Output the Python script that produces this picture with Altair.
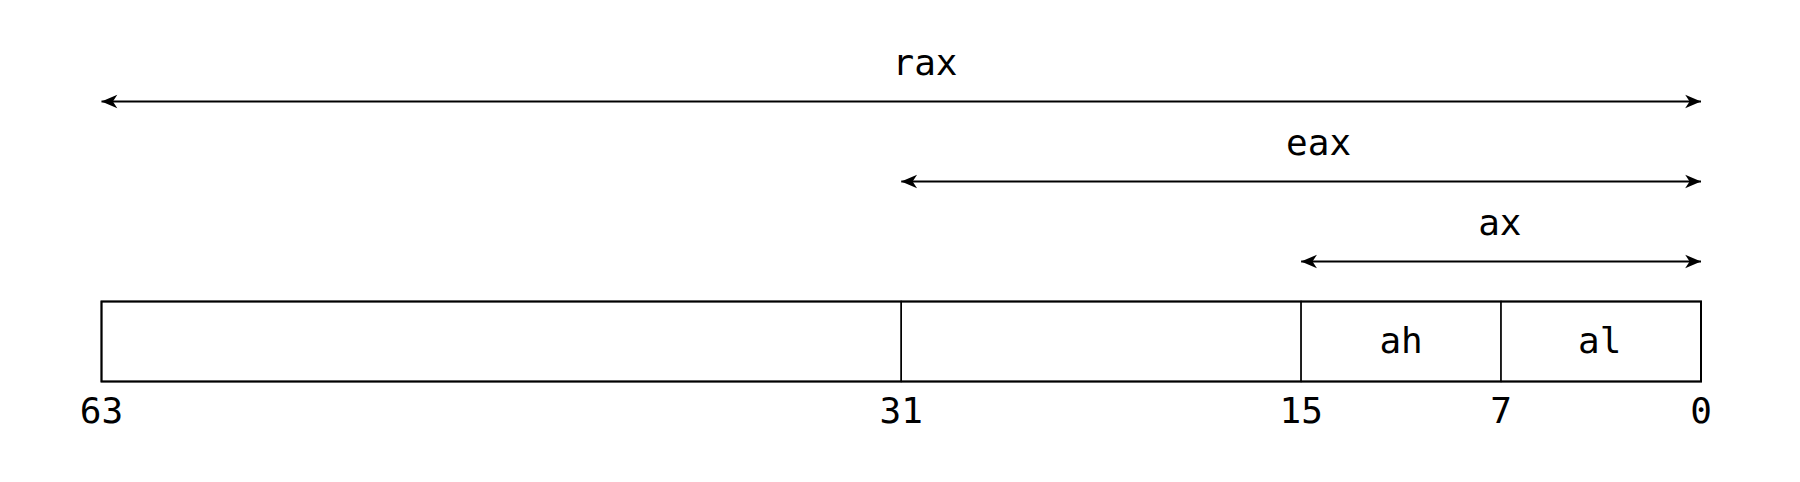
import altair as alt
import pandas as pd

# register widths (bit boundaries: start position and end position)
reg_names = ['rax', 'eax', 'ax']
reg_hi = [64, 32, 16]
reg_lo = [0, 0, 0]
reg_row = [0, 1, 2]
reg_label_x = [31.05, 15.3, 8.05]

# byte fields inside the box
field_names = ['', '', 'ah', 'al']
field_hi = [64, 32, 16, 8]
field_lo = [32, 16, 8, 0]
field_label_x = [48, 24, 12.0, 4.05]

# bit numbers under the box
tick_pos = [64, 32, 16, 8, 0]
tick_text = ['63', '31', '15', '7', '0']

FONT = 'DejaVu Sans Mono'
x_sc = alt.Scale(domain=[64, 0], range=[93.5, 1693])
y_sc = alt.Scale(domain=[-1.16875, 4.65625], range=[0, 466])
X = lambda f: alt.X(f, type='quantitative', scale=x_sc, axis=None)
Y = lambda f: alt.Y(f, type='quantitative', scale=y_sc, axis=None)

regs = pd.DataFrame({'name': reg_names, 'hi': reg_hi, 'lo': reg_lo, 'row': reg_row,
                     'lx': reg_label_x})
regs['ly'] = regs['row'] - 0.475

arrows = alt.Chart(regs).mark_rule(color='black', strokeWidth=2).encode(
    x=X('hi'), x2='lo', y=Y('row'))
head_l = alt.Chart(regs).mark_point(
    shape='M0,0L1,-0.42L0.72,0L1,0.42Z', filled=True, color='black', opacity=1, size=1000
).encode(x=X('hi'), y=Y('row'))
head_r = alt.Chart(regs).mark_point(
    shape='M0,0L-1,-0.42L-0.72,0L-1,0.42Z', filled=True, color='black', opacity=1, size=1000
).encode(x=X('lo'), y=Y('row'))
reg_text = alt.Chart(regs).mark_text(font=FONT, fontSize=36, baseline='middle').encode(
    x=X('lx'), y=Y('ly'), text='name')

fields = pd.DataFrame({'name': field_names, 'hi': field_hi, 'lo': field_lo,
                       'lx': field_label_x})
fields['top'] = 2.5
fields['bot'] = 3.5
fields['mid'] = 3.0
box = alt.Chart(fields).mark_rect(fill='white', stroke='black', strokeWidth=1.5).encode(
    x=X('hi'), x2='lo', y=Y('top'), y2='bot')
outer = alt.Chart(pd.DataFrame({'hi': [64], 'lo': [0], 'top': [2.5], 'bot': [3.5]})).mark_rect(
    fill=None, stroke='black', strokeWidth=2).encode(x=X('hi'), x2='lo', y=Y('top'), y2='bot')
field_text = alt.Chart(fields).mark_text(font=FONT, fontSize=36, baseline='middle').encode(
    x=X('lx'), y=Y('mid'), text='name')

ticks = pd.DataFrame({'pos': tick_pos, 'label': tick_text, 'y': [3.88] * 5})
tick_text_layer = alt.Chart(ticks).mark_text(font=FONT, fontSize=36, baseline='middle').encode(
    x=X('pos'), y=Y('y'), text='label')

chart = alt.layer(arrows, head_l, head_r, reg_text, box, outer, field_text, tick_text_layer).properties(
    width=1784, height=466, autosize=alt.AutoSizeParams(type='none'), padding=0
).configure_view(strokeOpacity=0)

chart.save("out.html", embed_options={"renderer": "svg", "actions": False})
